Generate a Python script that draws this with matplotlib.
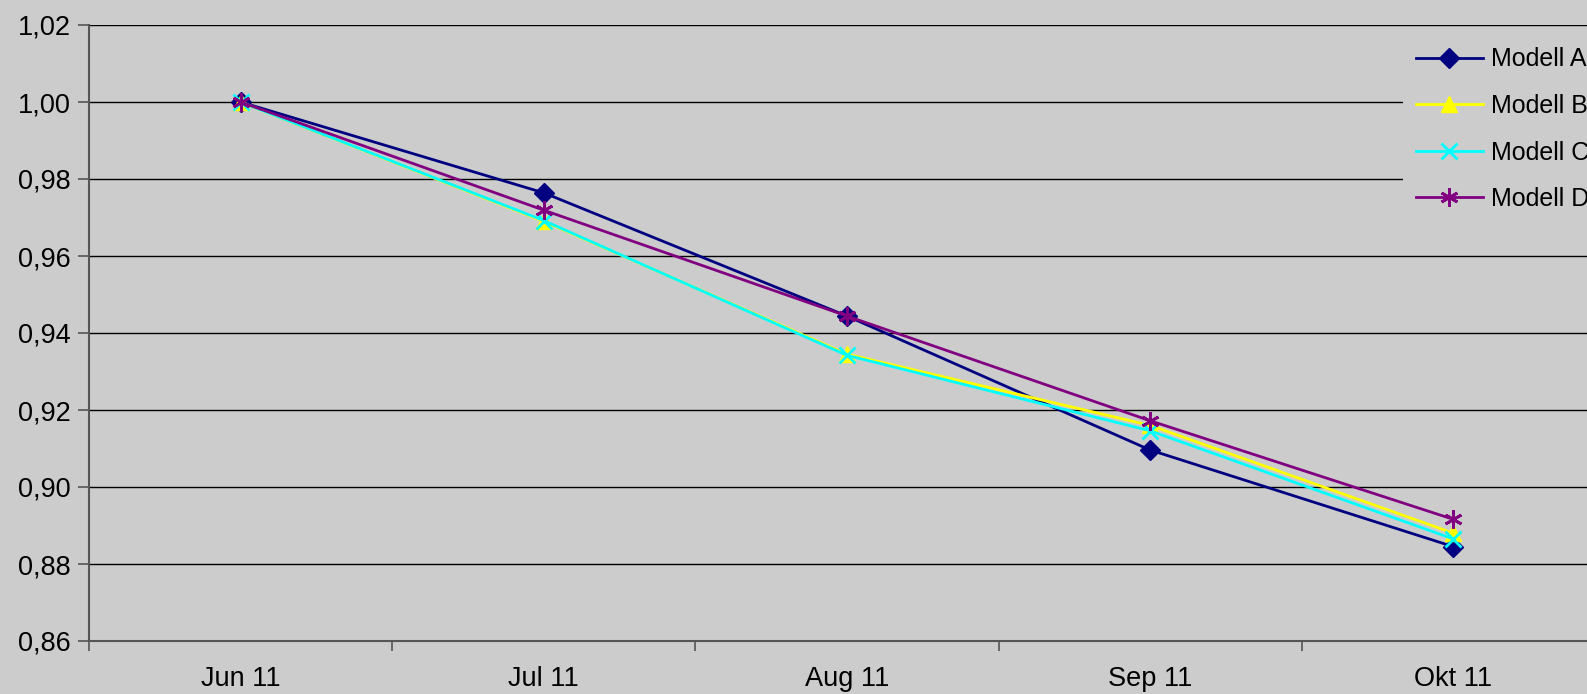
import matplotlib.pyplot as plt
from matplotlib.ticker import FixedLocator, FuncFormatter

plt.rcParams['font.family'] = ['Liberation Sans', 'DejaVu Sans']

months = ['Jun 11', 'Jul 11', 'Aug 11', 'Sep 11', 'Okt 11']
modell_a = [1.000, 0.9764, 0.9444, 0.9096, 0.8845]
modell_b = [1.000, 0.9690, 0.9345, 0.9160, 0.8880]
modell_c = [1.000, 0.9692, 0.9342, 0.9146, 0.8865]
modell_d = [1.000, 0.9719, 0.9444, 0.9172, 0.8916]

bg = '#cccccc'
fig = plt.figure(figsize=(15.87, 6.94), dpi=100, facecolor=bg)
ax = fig.add_axes([89 / 1587, 53 / 694, 1516 / 1587, 616 / 694])
ax.set_facecolor(bg)

x = range(len(months))
ax.plot(x, modell_a, color='#000080', lw=2, marker='D', ms=10, label='Modell A', zorder=3)
ax.plot(x, modell_b, color='#ffff00', lw=2, marker='^', ms=12, label='Modell B', zorder=3)
ax.plot(x, modell_c, color='#00ffff', lw=2, marker='x', ms=11, mew=2, label='Modell C', zorder=3)
ax.plot(x, modell_d, color='#800080', lw=2, marker=(6, 2, 0), ms=13, mew=2, label='Modell D', zorder=3)

ax.set_xlim(-0.5, 4.5)
ax.set_ylim(0.86, 1.02)
yt = [0.86 + 0.02 * i for i in range(9)]
ax.set_yticks(yt)
ax.yaxis.set_major_formatter(FuncFormatter(lambda v, p: f'{v:.2f}'.replace('.', ',')))
ax.grid(axis='y', color='black', lw=1)
ax.set_axisbelow(True)

ax.set_xticks(list(x))
ax.set_xticklabels(months)
ax.xaxis.set_minor_locator(FixedLocator([i - 0.5 for i in range(6)]))
ax.tick_params(axis='x', which='major', length=0, pad=18, labelsize=19.5)
ax.tick_params(axis='x', which='minor', length=7, color='#555555', width=1.2)
ax.tick_params(axis='y', length=8, color='#555555', width=1.2, labelsize=19.5, pad=5)

for s in ['top', 'right']:
    ax.spines[s].set_visible(False)
ax.spines['left'].set_color('#555555')
ax.spines['left'].set_linewidth(1.5)
ax.spines['bottom'].set_color('#555555')
ax.spines['bottom'].set_linewidth(1.5)

# legend box in the background colour hides the gridlines behind it
leg = fig.legend(loc='upper left', bbox_to_anchor=(1403 / 1587, 1 - 35 / 694),
                 frameon=True, facecolor=bg, edgecolor='none', framealpha=1,
                 fancybox=False, fontsize=18, handlelength=2.7, handletextpad=0.32,
                 labelspacing=0.9, borderaxespad=0, borderpad=0.5)

fig.savefig('out.png', dpi=100, facecolor=bg)
